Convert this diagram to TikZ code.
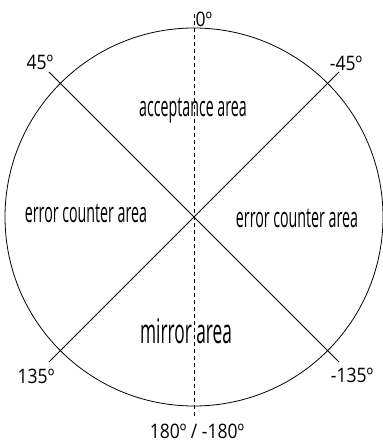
\documentclass[tikz,border=0pt]{standalone}
\usepackage{fontspec}
\usepackage{tikz}
\usetikzlibrary{positioning,calc}
\newfontfamily\degfont{Open Sans}[FakeStretch=0.88]
\newfontfamily\zonefont{Open Sans}[FakeStretch=0.51]
\tikzset{
  % kreis og linjer
  rim/.style={draw=black,line width=0.8pt},
  split/.style={draw=black,line width=0.8pt},
  zeroaxis/.style={draw=black,line width=0.8pt,dash pattern=on 4pt off 3pt},
  % tekster
  deg/.style={font=\degfont\fontsize{20}{22}\selectfont,inner sep=0pt,anchor=base},
  zone/.style={font=\zonefont\fontsize{28}{30}\selectfont,inner sep=0pt,anchor=base},
  bigzone/.style={font=\zonefont\fontsize{34}{36}\selectfont,inner sep=0pt,anchor=base},
}

\begin{document}
\begin{tikzpicture}[x=1bp,y=-1bp]
\useasboundingbox (0,0) rectangle (382,442);
  \coordinate (o) at (194,217);
  \coordinate (ul) at (49,72);
  \coordinate (ur) at (339,72);
  \coordinate (ll) at (49,362);
  \coordinate (lr) at (339,362);
  \coordinate (top) at (194,14);
  \coordinate (bot) at (194,418);
  \draw[rim] (o) circle[radius=189bp];
  \draw[split] (ul) -- (lr);
  \draw[split] (ur) -- (ll);
  \draw[zeroaxis] (top) -- (bot);
  \node[deg] (d0) at (204,27) {0º};
  \node[deg] (d45) at (40,70) {45º};
  \node[deg] (dm45) at (346,71) {-45º};
  \node[deg] (d135) at (36,383) {135º};
  \node[deg] (dm135) at (352,382) {-135º};
  \node[deg] (d180) at (197,438) {180º / -180º};
  \node[zone] (acc) at (193,117) {acceptance area};
  \node[zone] (errl) at (86,222) {error counter area};
  \node[zone] (errr) at (297,227) {error counter area};
  \node[bigzone] (mir) at (186,343) {mirror area};
\end{tikzpicture}
\end{document}
